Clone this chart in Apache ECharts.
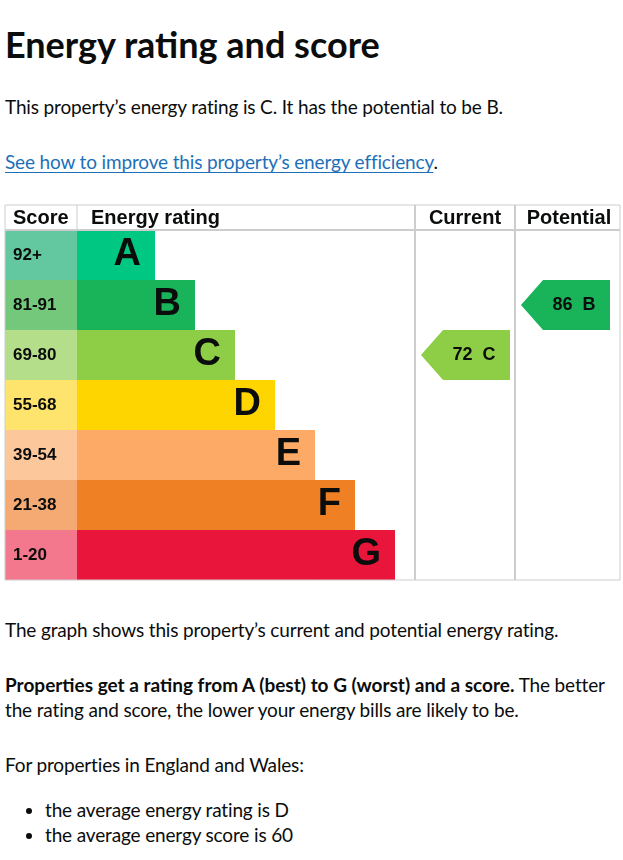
<!DOCTYPE html>
<html>
<head>
<meta charset="utf-8">
<script src="https://cdn.jsdelivr.net/npm/echarts@6/dist/echarts.min.js"></script>
<style>
  body { margin: 0; background: #fff; width: 623px; height: 860px; overflow: hidden; position: relative; color: #0b0c0c; font-family: Lato, sans-serif; }
  .t { position: absolute; left: 5px; font-size: 19px; line-height: 25px; white-space: nowrap; letter-spacing: -0.15px; }
  .t b { letter-spacing: 0; }
  h1 { position: absolute; left: 5px; top: 23px; margin: 0; font-size: 36px; line-height: 42px; font-weight: 700; }
  a { color: #1d70b8; text-decoration: underline; text-underline-offset: 3px; }
  ul { position: absolute; left: 5px; top: 797px; margin: 0; padding-left: 40px; font-size: 19px; line-height: 25px; letter-spacing: -0.15px; }
</style>
</head>
<body>
<h1>Energy rating and score</h1>
<div class="t" style="top:94px">This property’s energy rating is C. It has the potential to be B.</div>
<div class="t" style="top:149px"><a>See how to improve this property’s energy efficiency</a>.</div>
<div id="chart" style="position:absolute;left:0;top:200px;width:623px;height:385px;"></div>
<div class="t" style="top:617px">The graph shows this property’s current and potential energy rating.</div>
<div class="t" style="top:672px"><b>Properties get a rating from A (best) to G (worst) and a score.</b> The better<br>the rating and score, the lower your energy bills are likely to be.</div>
<div class="t" style="top:752px">For properties in England and Wales:</div>
<ul>
  <li>the average energy rating is D</li>
  <li>the average energy score is 60</li>
</ul>
<script>
// 能效等级
const bands = ['A', 'B', 'C', 'D', 'E', 'F', 'G'];
const scoreRanges = ['92+', '81-91', '69-80', '55-68', '39-54', '21-38', '1-20'];
// 分数列宽度 + 等级条长度
const scoreCell = [72, 72, 72, 72, 72, 72, 72];
const barLength = [78, 118, 158, 198, 238, 278, 318];
const bandColors = ['#00c781', '#19b459', '#8dce46', '#ffd500', '#fcaa65', '#ef8023', '#e9153b'];
const scoreColors = ['#63c8a0', '#73c87b', '#b5de8a', '#fee46c', '#fdc79c', '#f4aa72', '#f3778d'];
const current = { band: 'C', score: 72 };
const potential = { band: 'B', score: 86 };

const chart = echarts.init(document.getElementById('chart'));
const lineColor = '#cdcdcd';
const headFont = 'bold 20px "Liberation Sans", Arial, sans-serif';

// 箭头
function arrowItem(params, api) {
  const idx = api.value(0);
  const p = api.coord([0, idx]);
  const h = api.size([0, 1])[1];
  const x = p[0], y = p[1];
  const top = y - h / 2, bot = y + h / 2;
  return {
    type: 'group',
    children: [
      {
        type: 'polygon',
        shape: { points: [[x + 6, y], [x + 28, top], [x + 95, top], [x + 95, bot], [x + 28, bot]] },
        style: { fill: bandColors[idx] }
      },
      {
        type: 'text',
        style: {
          text: api.value(1) + '  ' + bands[idx],
          x: x + 59, y: y,
          align: 'center', verticalAlign: 'middle',
          font: 'bold 18px "Liberation Sans", Arial, sans-serif',
          fill: '#0b0c0c'
        }
      }
    ]
  };
}

function catAxis(i) {
  return { type: 'category', data: bands, inverse: true, show: false, gridIndex: i };
}

const option = {
  animation: false,
  grid: [
    { left: 5, top: 30, width: 410, height: 350 },
    { left: 415, top: 30, width: 100, height: 350 },
    { left: 515, top: 30, width: 105, height: 350 }
  ],
  xAxis: [
    { type: 'value', min: 0, max: 410, show: false, gridIndex: 0 },
    { type: 'value', min: 0, max: 100, show: false, gridIndex: 1 },
    { type: 'value', min: 0, max: 105, show: false, gridIndex: 2 }
  ],
  yAxis: [catAxis(0), catAxis(1), catAxis(2)],
  series: [
    {
      type: 'bar', stack: 'r', barCategoryGap: 0, xAxisIndex: 0, yAxisIndex: 0,
      data: scoreCell.map((v, i) => ({ value: v, itemStyle: { color: scoreColors[i] } })),
      label: {
        show: true, position: 'insideLeft', distance: 8,
        formatter: p => scoreRanges[p.dataIndex],
        fontFamily: '"Liberation Sans", Arial, sans-serif', fontWeight: 'bold', fontSize: 17, color: '#0b0c0c'
      }
    },
    {
      type: 'bar', stack: 'r', barCategoryGap: 0, xAxisIndex: 0, yAxisIndex: 0,
      data: barLength.map((v, i) => ({ value: v, itemStyle: { color: bandColors[i] } })),
      label: {
        show: true, position: 'insideRight', distance: 14,
        formatter: p => bands[p.dataIndex],
        fontFamily: '"Liberation Sans", Arial, sans-serif', fontWeight: 'bold', fontSize: 38, color: '#0b0c0c'
      }
    },
    {
      type: 'custom', xAxisIndex: 1, yAxisIndex: 1, renderItem: arrowItem,
      data: [[bands.indexOf(current.band), current.score]]
    },
    {
      type: 'custom', xAxisIndex: 2, yAxisIndex: 2, renderItem: arrowItem,
      data: [[bands.indexOf(potential.band), potential.score]]
    }
  ],
  graphic: [
    // 表格边框
    { type: 'rect', shape: { x: 5, y: 5, width: 615, height: 375 }, style: { fill: 'none', stroke: lineColor, lineWidth: 1 }, z: 10 },
    { type: 'line', shape: { x1: 5, y1: 30, x2: 620, y2: 30 }, style: { stroke: lineColor, lineWidth: 2 }, z: 10 },
    { type: 'line', shape: { x1: 77, y1: 5, x2: 77, y2: 30 }, style: { stroke: lineColor, lineWidth: 1 }, z: 10 },
    { type: 'line', shape: { x1: 415, y1: 5, x2: 415, y2: 380 }, style: { stroke: lineColor, lineWidth: 2 }, z: 10 },
    { type: 'line', shape: { x1: 515, y1: 5, x2: 515, y2: 380 }, style: { stroke: lineColor, lineWidth: 2 }, z: 10 },
    // 表头
    { type: 'text', style: { text: 'Score', x: 13, y: 18, verticalAlign: 'middle', font: headFont, fill: '#0b0c0c' } },
    { type: 'text', style: { text: 'Energy rating', x: 91, y: 18, verticalAlign: 'middle', font: headFont, fill: '#0b0c0c' } },
    { type: 'text', style: { text: 'Current', x: 465, y: 18, align: 'center', verticalAlign: 'middle', font: headFont, fill: '#0b0c0c' } },
    { type: 'text', style: { text: 'Potential', x: 569, y: 18, align: 'center', verticalAlign: 'middle', font: headFont, fill: '#0b0c0c' } }
  ]
};
chart.setOption(option);
</script>
</body>
</html>
